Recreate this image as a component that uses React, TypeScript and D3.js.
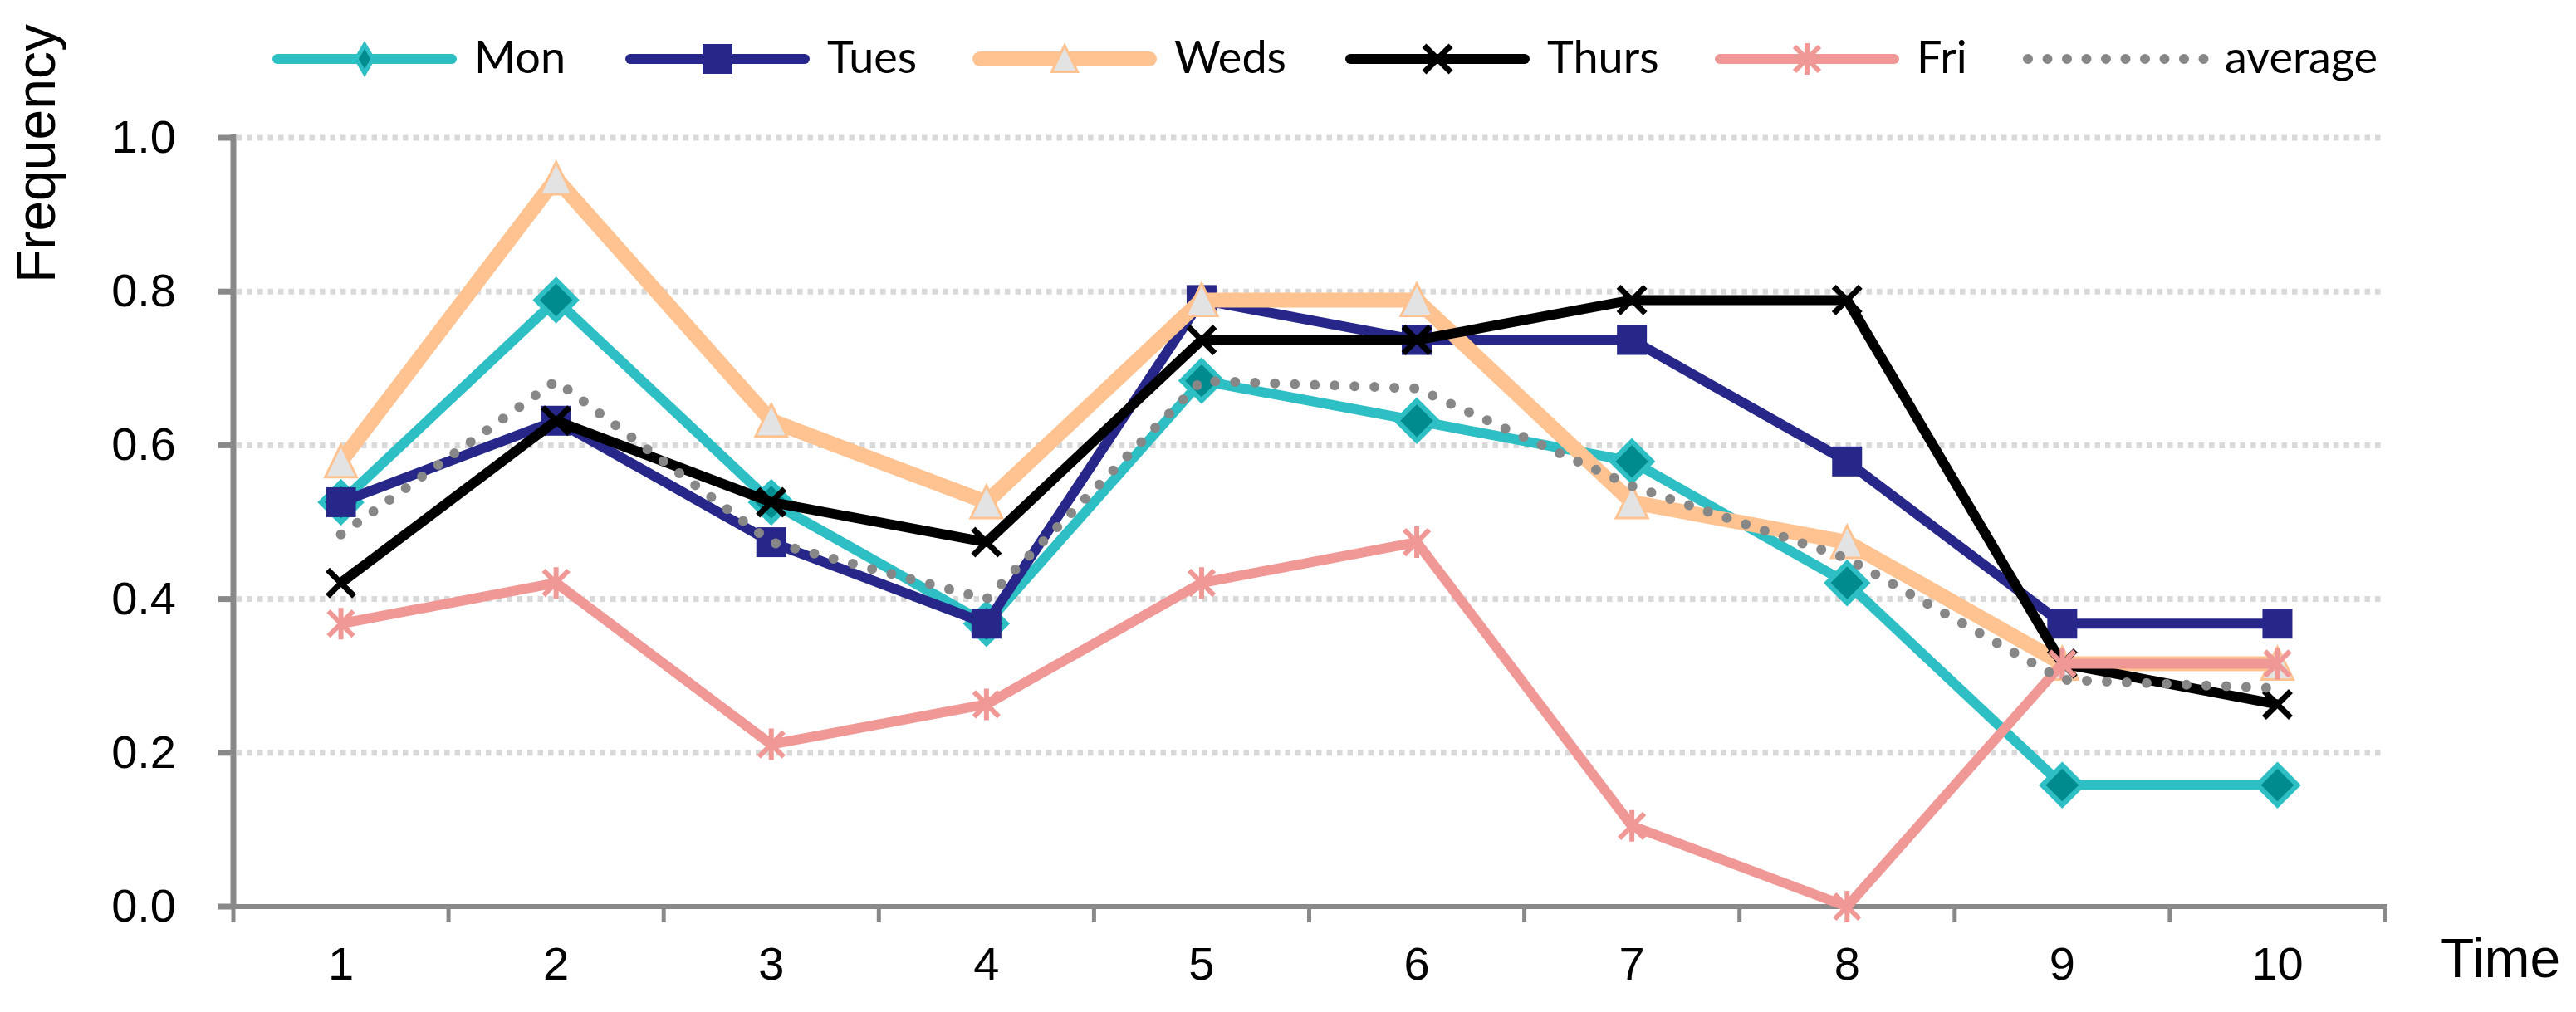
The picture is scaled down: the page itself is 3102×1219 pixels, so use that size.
import React from "react";
import * as d3 from "d3";

const categories = ["1", "2", "3", "4", "5", "6", "7", "8", "9", "10"];
const mon = [0.526, 0.789, 0.526, 0.368, 0.684, 0.632, 0.579, 0.421, 0.158, 0.158];
const tues = [0.526, 0.632, 0.474, 0.368, 0.789, 0.737, 0.737, 0.579, 0.368, 0.368];
const weds = [0.579, 0.947, 0.632, 0.526, 0.789, 0.789, 0.526, 0.474, 0.316, 0.316];
const thurs = [0.421, 0.632, 0.526, 0.474, 0.737, 0.737, 0.789, 0.789, 0.316, 0.263];
const fri = [0.368, 0.421, 0.211, 0.263, 0.421, 0.474, 0.105, 0.0, 0.316, 0.316];
const average = [0.484, 0.684, 0.474, 0.4, 0.684, 0.674, 0.547, 0.453, 0.295, 0.284];
const yTicks = [0, 0.2, 0.4, 0.6, 0.8, 1.0];
const seriesNames = ["Mon", "Tues", "Weds", "Thurs", "Fri", "average"];

const W = 3102;
const H = 1219;
const X0 = 281;
const X1 = 2872;
const Y0 = 1092;
const Y1 = 166;
const AXIS = "#898989";
const GRID = "#D9D9D9";

type Marker = "diamond" | "square" | "triangle" | "x" | "asterisk" | "none";
type Style = {
  color: string;
  width: number;
  marker: Marker;
  fill: string;
  dotted?: boolean;
};

const styles: Style[] = [
  { color: "#2EBFC5", width: 12, marker: "diamond", fill: "#008B8F" },
  { color: "#27278A", width: 12, marker: "square", fill: "#27278A" },
  { color: "#FFC392", width: 18, marker: "triangle", fill: "#E3E3E3" },
  { color: "#000000", width: 12, marker: "x", fill: "none" },
  { color: "#EF9896", width: 12, marker: "asterisk", fill: "none" },
  { color: "#878787", width: 12, marker: "none", fill: "none", dotted: true },
];

const seriesData = [mon, tues, weds, thurs, fri, average];

function MarkerShape({ m, s, cx, cy, legend }: { m: Marker; s: Style; cx: number; cy: number; legend?: boolean }) {
  switch (m) {
    case "diamond": {
      const hw = legend ? 10 : 24;
      const hh = legend ? 17 : 24;
      return (
        <path
          d={`M${cx},${cy - hh}L${cx + hw},${cy}L${cx},${cy + hh}L${cx - hw},${cy}Z`}
          fill={s.fill}
          stroke={s.color}
          strokeWidth={legend ? 5 : 6}
          strokeLinejoin="miter"
        />
      );
    }
    case "square": {
      const h = 18;
      return <rect x={cx - h} y={cy - h} width={2 * h} height={2 * h} fill={s.fill} />;
    }
    case "triangle": {
      const k = legend ? 0.82 : 1;
      const top = 20 * k;
      const bot = 19 * k;
      const hw = 19 * k;
      return (
        <path
          d={`M${cx},${cy - top}L${cx + hw},${cy + bot}L${cx - hw},${cy + bot}Z`}
          fill={s.fill}
          stroke={s.color}
          strokeWidth={3}
          strokeLinejoin="miter"
        />
      );
    }
    case "x": {
      const a = 16;
      return (
        <path
          d={`M${cx - a},${cy - a}L${cx + a},${cy + a}M${cx - a},${cy + a}L${cx + a},${cy - a}`}
          stroke={s.color}
          strokeWidth={7}
          fill="none"
        />
      );
    }
    case "asterisk": {
      const a = 15;
      const v = 19;
      return (
        <path
          d={`M${cx - a},${cy - a}L${cx + a},${cy + a}M${cx - a},${cy + a}L${cx + a},${cy - a}M${cx},${cy - v}L${cx},${cy + v}`}
          stroke={s.color}
          strokeWidth={6}
          fill="none"
        />
      );
    }
    default:
      return null;
  }
}

export default function App() {
  const x = d3.scaleBand<string>().domain(categories).range([X0, X1]).padding(0);
  const bw = x.bandwidth();
  const cxOf = (c: string) => (x(c) as number) + bw / 2;
  const y = d3.scaleLinear().domain([0, 1]).range([Y0, Y1]);

  const line = d3
    .line<number>()
    .x((_, i) => cxOf(categories[i]))
    .y((d) => y(d));

  const boundaries = d3.range(categories.length + 1).map((i) => X0 + i * bw);

  const legendStarts = [328, 753, 1171, 1620, 2065, 2436];
  const legendLineLen = 222;
  const legendY = 71;

  return (
    <svg
      width={W}
      height={H}
      style={{ position: "absolute", left: 0, top: 0, display: "block", background: "#fff" }}
    >
      <rect x={0} y={0} width={W} height={H} fill="#fff" />
      {/* gridlines */}
      {yTicks
        .filter((t) => t > 0)
        .map((t) => (
          <line
            key={"g" + t}
            x1={X0 + 4}
            x2={X1}
            y1={y(t)}
            y2={y(t)}
            stroke={GRID}
            strokeWidth={7}
            strokeDasharray="6.5 6"
          />
        ))}
      {/* y axis */}
      <line x1={X0} x2={X0} y1={y(1) - 4} y2={Y0} stroke={AXIS} strokeWidth={7} />
      {yTicks.map((t) => (
        <line key={"yt" + t} x1={263} x2={X0} y1={y(t)} y2={y(t)} stroke={AXIS} strokeWidth={7} />
      ))}
      {/* x axis */}
      <line x1={263} x2={X1 + 2} y1={Y0} y2={Y0} stroke={AXIS} strokeWidth={6} />
      {boundaries.map((b, i) => (
        <line key={"xt" + i} x1={b} x2={b} y1={Y0} y2={1111} stroke={AXIS} strokeWidth={5} />
      ))}
      {/* y tick labels */}
      {yTicks.map((t) => (
        <text
          key={"yl" + t}
          x={212}
          y={y(t) + 18}
          textAnchor="end"
          fontFamily="'Liberation Sans', Arial, sans-serif"
          fontSize={56}
          fill="#000"
        >
          {t.toFixed(1)}
        </text>
      ))}
      {/* x tick labels */}
      {categories.map((c) => (
        <text
          key={"xl" + c}
          x={cxOf(c)}
          y={1180}
          textAnchor="middle"
          fontFamily="'Liberation Sans', Arial, sans-serif"
          fontSize={56}
          fill="#000"
        >
          {c}
        </text>
      ))}
      {/* axis titles */}
      <text
        transform={`translate(66,185) rotate(-90)`}
        textAnchor="middle"
        fontFamily="'Liberation Sans', Arial, sans-serif"
        fontSize={66}
        fill="#000"
      >
        Frequency
      </text>
      <text x={2939} y={1177} fontFamily="'Liberation Sans', Arial, sans-serif" fontSize={66} fill="#000">
        Time
      </text>
      {/* series */}
      {seriesData.map((data, si) => {
        const s = styles[si];
        return (
          <g key={"s" + si}>
            <path
              d={line(data) || ""}
              fill="none"
              stroke={s.color}
              strokeWidth={s.width}
              strokeLinejoin="round"
              strokeLinecap={s.dotted ? "round" : "butt"}
              strokeDasharray={s.dotted ? "0 24" : undefined}
            />
            {data.map((v, i) => (
              <MarkerShape key={i} m={s.marker} s={s} cx={cxOf(categories[i])} cy={y(v)} />
            ))}
          </g>
        );
      })}
      {/* legend */}
      {seriesNames.map((name, si) => {
        const s = styles[si];
        const x0 = legendStarts[si];
        const xm = x0 + legendLineLen / 2;
        return (
          <g key={"l" + si}>
            <line
              x1={x0 + (s.dotted ? 6 : s.width / 2)}
              x2={x0 + legendLineLen - (s.dotted ? 0 : s.width / 2)}
              y1={legendY}
              y2={legendY}
              stroke={s.color}
              strokeWidth={s.dotted ? 12 : s.width}
              strokeLinecap="round"
              strokeDasharray={s.dotted ? "0 23.5" : undefined}
            />
            <MarkerShape m={s.marker} s={s} cx={xm} cy={legendY} legend />
            <text
              x={x0 + 243}
              y={88}
              fontFamily="Lato, 'Open Sans', sans-serif"
              fontSize={54}
              fill="#000"
            >
              {name}
            </text>
          </g>
        );
      })}
    </svg>
  );
}
